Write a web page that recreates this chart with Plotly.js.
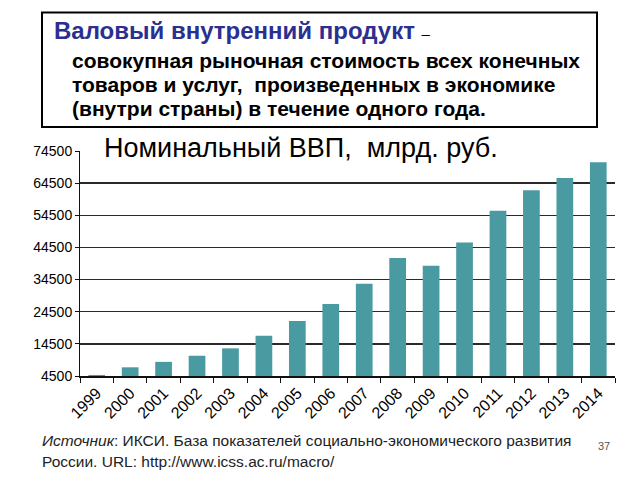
<!DOCTYPE html>
<html>
<head>
<meta charset="utf-8">
<script src="https://cdn.plot.ly/plotly-3.0.1.min.js"></script>
<style>html,body{margin:0;padding:0;background:#fff;}#chart{width:640px;height:480px;}</style>
</head>
<body>
<div id="chart"></div>
<script>
// Data
const years = ['1999','2000','2001','2002','2003','2004','2005','2006','2007','2008','2009','2010','2011','2012','2013','2014'];
const gdp = [4823, 7200, 8900, 10800, 13100, 17050, 21600, 26900, 33200, 41200, 38800, 46000, 55900, 62300, 66100, 71000];
const yTicks = [4500, 14500, 24500, 34500, 44500, 54500, 64500, 74500];

const chartTitle = 'Номинальный ВВП,  млрд. руб.';
const boxHeading = 'Валовый внутренний продукт';
const boxLines = [
  'совокупная рыночная стоимость всех конечных',
  'товаров и услуг,  произведенных в экономике',
  '(внутри страны) в течение одного года.'
];
const sourceLine1 = '<i>Источник</i>: ИКСИ. База показателей социально-экономического развития';
const sourceLine2 = 'России. URL: http://www.icss.ac.ru/macro/';
const pageNo = '37';

// layout helpers (pixel -> paper)
const L = 80, R = 615, T = 151, B = 376;
const px = x => (x - L) / (R - L);
const py = y => (B - y) / (B - T);
const FONT = 'Liberation Sans, Arial, sans-serif';

const annotations = [
  {text: '<span style="color:#2b2f8f">' + boxHeading + '</span> <span style="font-size:15px;font-weight:normal">–</span>',
   x: px(52), y: py(31), xanchor: 'left', yanchor: 'middle',
   font: {family: FONT, size: 24, color: '#000', weight: 'bold'}},
  {text: sourceLine1, x: px(40), y: py(440), xanchor: 'left', yanchor: 'middle',
   font: {family: FONT, size: 15.5, color: '#222'}},
  {text: sourceLine2, x: px(40), y: py(461), xanchor: 'left', yanchor: 'middle',
   font: {family: FONT, size: 15.5, color: '#222'}},
  {text: pageNo, x: px(604), y: py(446), xanchor: 'center', yanchor: 'middle',
   font: {family: FONT, size: 11, color: '#555'}}
];
const lineY = [60, 84, 108];
boxLines.forEach((t, i) => annotations.push({
  text: t, x: px(70), y: py(lineY[i]), xanchor: 'left', yanchor: 'middle',
  font: {family: FONT, size: 21, color: '#000', weight: 'bold'}
}));
annotations.forEach(a => { a.xref = 'paper'; a.yref = 'paper'; a.showarrow = false; });

const trace = {
  type: 'bar', x: years, y: gdp,
  marker: {color: '#4a9aa1'},
  hoverinfo: 'x+y'
};

const layout = {
  width: 640, height: 480,
  margin: {l: L, r: 640 - R, t: T, b: 480 - B, pad: 0},
  paper_bgcolor: '#fff', plot_bgcolor: '#fff',
  showlegend: false,
  bargap: 0.5,
  font: {family: FONT, color: '#000'},
  title: {text: chartTitle, x: 104 / 640, xanchor: 'left', y: 1 - 148 / 480, yanchor: 'middle',
          font: {family: FONT, size: 27, color: '#000'}},
  xaxis: {
    type: 'category', tickangle: -45, tickfont: {family: FONT, size: 16, color: '#000'},
    showline: true, linecolor: '#111', linewidth: 1.5,
    ticks: 'outside', tickson: 'boundaries', ticklen: 5, tickcolor: '#111',
    showgrid: false, fixedrange: true
  },
  yaxis: {
    range: [4500, 74500], tickvals: yTicks, ticktext: yTicks.map(String),
    tickfont: {family: FONT, size: 14, color: '#000'},
    showline: true, linecolor: '#111', linewidth: 1,
    ticks: 'outside', ticklen: 4, tickcolor: '#111',
    showgrid: true, gridcolor: '#2a2a2a', gridwidth: 1.5,
    zeroline: false, fixedrange: true
  },
  shapes: [{
    type: 'rect', xref: 'paper', yref: 'paper',
    x0: px(42), x1: px(597), y0: py(127), y1: py(12.5),
    line: {color: '#000', width: 2}, fillcolor: 'rgba(0,0,0,0)', layer: 'above'
  }],
  annotations: annotations
};

Plotly.newPlot('chart', [trace], layout, {displayModeBar: false, staticPlot: true});
</script>
</body>
</html>
